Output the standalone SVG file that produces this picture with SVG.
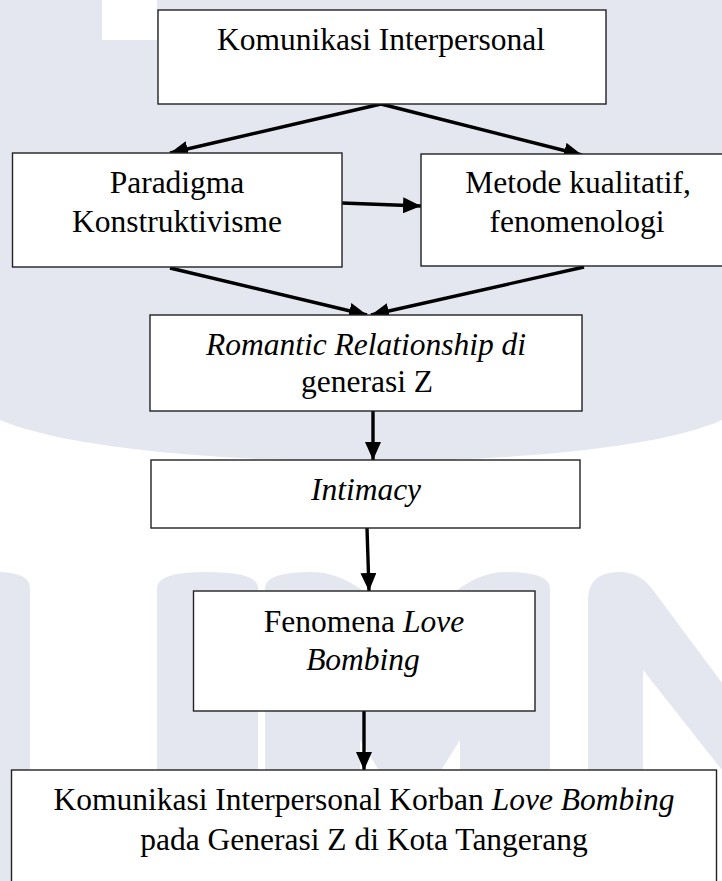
<svg xmlns="http://www.w3.org/2000/svg" width="722" height="881" viewBox="0 0 722 881">
<style>
.box{fill:#fff;stroke:#222;stroke-width:1.4}
.t{font-family:"Liberation Serif","Times New Roman",serif;font-size:31.5px;fill:#000;text-anchor:middle}
.i{font-style:italic}
.c{stroke:#000;stroke-width:3.4;fill:none;marker-end:url(#ah)}
.wm{fill:#e4e7f0}
</style>
<defs>
<marker id="ah" markerUnits="userSpaceOnUse" markerWidth="19" markerHeight="16" viewBox="0 0 19 16" refX="18" refY="8" orient="auto">
<path d="M0,0 L18,8 L0,16 z" fill="#000"/>
</marker>
</defs>
<rect width="722" height="881" fill="#fff"/>
<g id="watermark">
<path class="wm" d="M0,0 H722 V420 C600,475 130,475 0,420 Z"/>
<rect x="102" y="0" width="55" height="40" fill="#fff"/>
<path class="wm" d="M-40,881 V588 Q-40,572 -5,572 Q30,572 30,588 V881 Z"/>
<path class="wm" d="M157,881 V588 Q157,572 207,572 Q258,572 258,588 V881 Z"/>
<path class="wm" d="M265,881 V588 Q265,572 312,572 Q360,572 410,640 Q460,572 505,572 Q550,572 550,588 V881 H460 V740 L410,820 L360,740 V881 Z"/>
<path class="wm" d="M588,881 V600 Q588,572 620,572 Q640,572 653,590 L722,683 V770 L643,670 V881 Z"/>
</g>
<g id="connectors">
<line class="c" x1="381" y1="104" x2="170" y2="153"/>
<line class="c" x1="381" y1="104" x2="582" y2="155"/>
<line class="c" x1="342" y1="203" x2="421" y2="206"/>
<line class="c" x1="170" y1="268" x2="367" y2="315"/>
<line class="c" x1="584" y1="267" x2="371" y2="315"/>
<line class="c" x1="373" y1="411" x2="373" y2="460"/>
<line class="c" x1="367" y1="528" x2="369" y2="591"/>
<line class="c" x1="364" y1="711" x2="364" y2="770"/>
</g>
<g id="n1">
<rect class="box" x="158" y="10" width="448" height="94"/>
<text class="t" x="381" y="50">Komunikasi Interpersonal</text>
</g>
<g id="n2">
<rect class="box" x="12.5" y="153" width="329.5" height="114"/>
<text class="t" x="177" y="193">Paradigma</text>
<text class="t" x="177" y="232">Konstruktivisme</text>
</g>
<g id="n3">
<rect class="box" x="421" y="154" width="310" height="112"/>
<text class="t" x="578" y="193">Metode kualitatif,</text>
<text class="t" x="577" y="232">fenomenologi</text>
</g>
<g id="n4">
<rect class="box" x="150" y="315" width="432" height="96"/>
<text class="t i" x="366" y="355">Romantic Relationship di</text>
<text class="t" x="367" y="392">generasi Z</text>
</g>
<g id="n5">
<rect class="box" x="151" y="460" width="429" height="68"/>
<text class="t i" x="366" y="500">Intimacy</text>
</g>
<g id="n6">
<rect class="box" x="193.5" y="591" width="341.5" height="120"/>
<text class="t" x="364" y="632">Fenomena <tspan class="i">Love</tspan></text>
<text class="t i" x="363" y="670">Bombing</text>
</g>
<g id="n7">
<rect class="box" x="11.5" y="770" width="705" height="130"/>
<text class="t" x="364" y="810">Komunikasi Interpersonal Korban <tspan class="i">Love Bombing</tspan></text>
<text class="t" x="364" y="850">pada Generasi Z di Kota Tangerang</text>
</g>
</svg>
